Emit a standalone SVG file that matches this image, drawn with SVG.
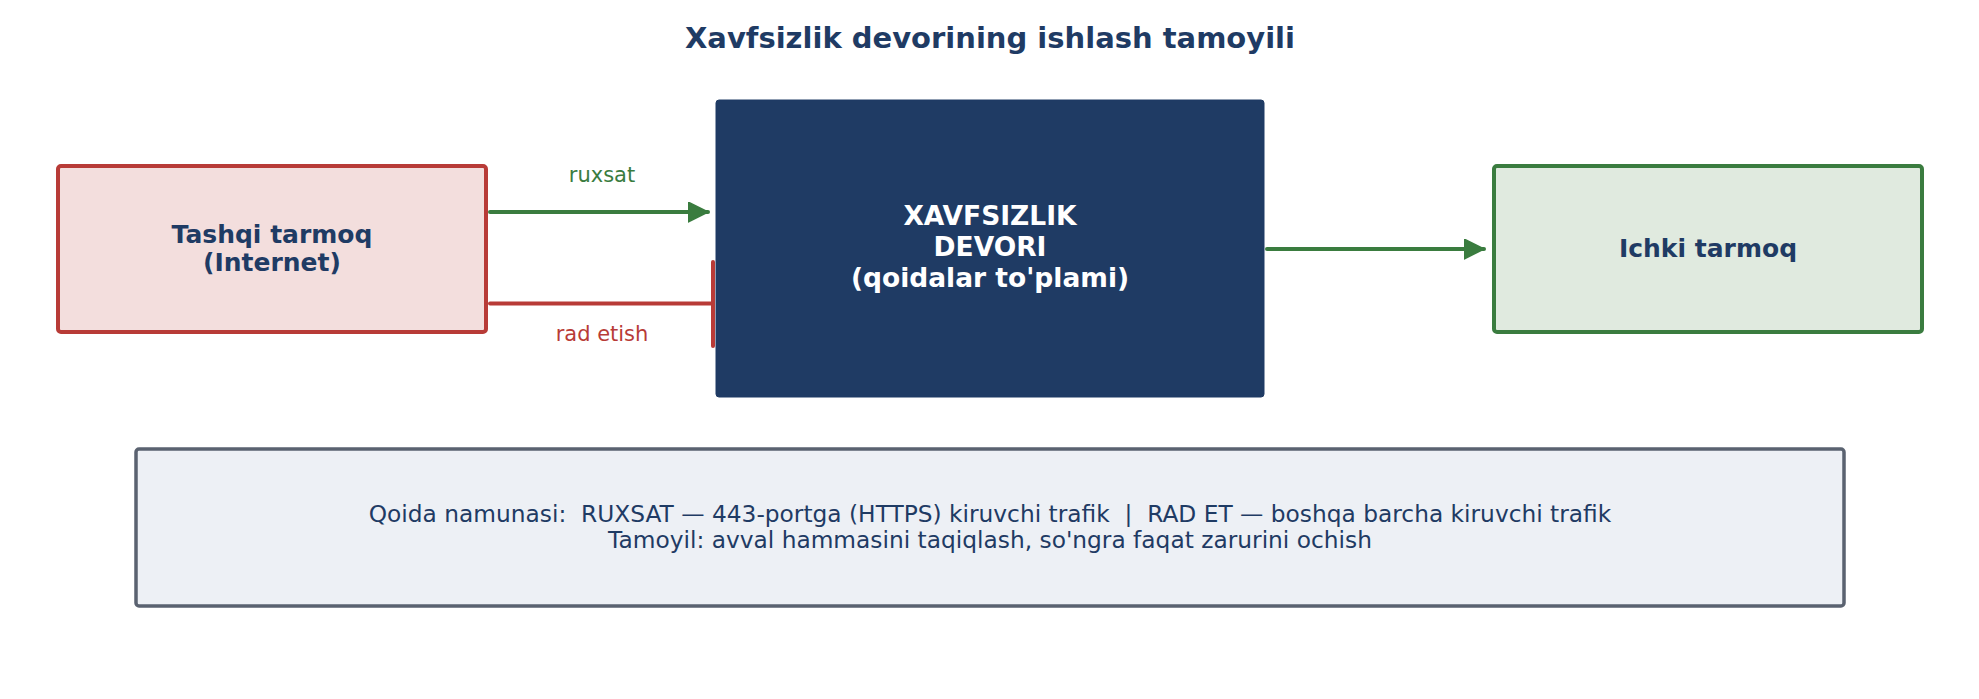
<svg xmlns="http://www.w3.org/2000/svg" width="1979" height="699" viewBox="0 0 1979 699">
<style>
text{font-family:"DejaVu Sans","Liberation Sans",sans-serif;text-anchor:middle}
.title{font-size:29px;font-weight:bold;fill:#1f3b64}
.nb{font-size:25px;font-weight:bold;fill:#1f3b64}
.fw{font-size:26.5px;font-weight:bold;fill:#ffffff}
.lbl{font-size:21px}
.note{font-size:23.3px;fill:#1f3b64}
.conn{fill:none;stroke-width:4;stroke-linecap:round}
</style>
<defs>
<marker id="ag" markerUnits="userSpaceOnUse" markerWidth="22" markerHeight="22" refX="20" refY="10" orient="auto">
<path d="M0,0 L20,10 L0,20 Z" fill="#3a7c3f" stroke="#3a7c3f" stroke-width="1.5" stroke-linejoin="round"/>
</marker>
</defs>
<rect width="1979" height="699" fill="#ffffff"/>
<text class="title" x="990" y="48">Xavfsizlik devorining ishlash tamoyili</text>
<g id="tashqi">
<rect x="58" y="166" width="428" height="166" rx="3" fill="#f3dedd" stroke="#b83b37" stroke-width="4"/>
<text class="nb" x="272" y="242.5">Tashqi tarmoq</text>
<text class="nb" x="272" y="270.5">(Internet)</text>
</g>
<g id="devor">
<rect x="716" y="100" width="548" height="297" rx="3" fill="#1f3b64" stroke="#1f3b64" stroke-width="1"/>
<text class="fw" x="990" y="224.5">XAVFSIZLIK</text>
<text class="fw" x="990" y="255.5">DEVORI</text>
<text class="fw" x="990" y="286.5">(qoidalar to'plami)</text>
</g>
<g id="ichki">
<rect x="1494" y="166" width="428" height="166" rx="3" fill="#e0eadf" stroke="#3a7c3f" stroke-width="4"/>
<text class="nb" x="1708" y="257">Ichki tarmoq</text>
</g>
<g id="connectors">
<line class="conn" x1="490" y1="212" x2="708" y2="212" stroke="#3a7c3f" marker-end="url(#ag)"/>
<text class="lbl" x="602" y="181.5" fill="#3a7c3f">ruxsat</text>
<line class="conn" x1="490" y1="303.5" x2="712" y2="303.5" stroke="#b83b37"/>
<line x1="713" y1="262" x2="713" y2="346" stroke="#b83b37" stroke-width="4" stroke-linecap="round"/>
<text class="lbl" x="602" y="340.5" fill="#b83b37">rad etish</text>
<line class="conn" x1="1267" y1="249" x2="1484" y2="249" stroke="#3a7c3f" marker-end="url(#ag)"/>
</g>
<g id="qoida">
<rect x="136" y="449" width="1708" height="157" rx="3" fill="#edf0f5" stroke="#5a6270" stroke-width="3.5"/>
<text class="note" x="990" y="521.5" xml:space="preserve">Qoida namunasi:  RUXSAT — 443-portga (HTTPS) kiruvchi trafik  |  RAD ET — boshqa barcha kiruvchi trafik</text>
<text class="note" x="990" y="548">Tamoyil: avval hammasini taqiqlash, so'ngra faqat zarurini ochish</text>
</g>
</svg>
